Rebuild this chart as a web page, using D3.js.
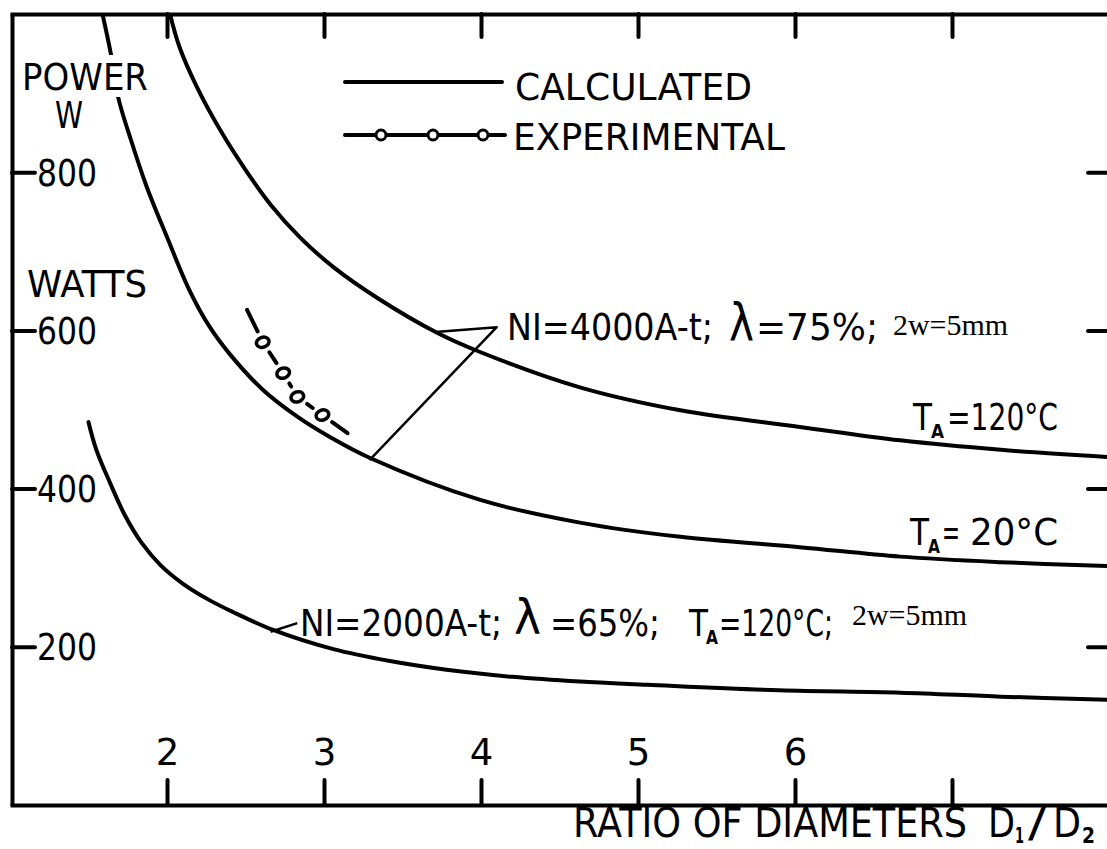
<!DOCTYPE html>
<html>
<head>
<meta charset="utf-8">
<script src="https://cdn.jsdelivr.net/npm/d3@7"></script>
<style>
  html, body { margin: 0; padding: 0; background: #fff; }
  svg { display: block; }
</style>
</head>
<body>
<svg id="chart" width="1107" height="849"></svg>
<script>
// power vs ratio of diameters D1/D2
const xTicks = [2, 3, 4, 5, 6, 7];
const xTickLabels = ["2", "3", "4", "5", "6", ""];
const yTicks = [200, 400, 600, 800];

// NI=4000A-t, lambda=75%, T_A=120°C (calculated)
const curveTa120 = [[2.02,999],[2.08,958],[2.19,908],[2.34,853],[2.50,803],[2.66,759],[2.85,717],[3.06,680],
  [3.34,641],[3.72,597],[3.99,573],[4.63,528],[5.27,499],[6.03,478],[6.67,461],[7.31,449],[7.99,440]];
// NI=4000A-t, lambda=75%, T_A=20°C (calculated)
const curveTa20 = [[1.59,999],[1.64,952],[1.69,894],[1.77,841],[1.87,782],[2.00,718],[2.14,652],[2.27,605],
  [2.40,570],[2.61,525],[2.83,491],[3.04,465],[3.29,439],[3.99,386],[4.63,357],[5.27,339],[6.03,326],
  [6.67,314],[7.31,307],[7.99,302]];
// NI=2000A-t, lambda=65%, T_A=120°C (calculated)
const curveNi2000 = [[1.50,484],[1.55,449],[1.64,406],[1.73,367],[1.84,331],[1.96,303],[2.10,280],[2.27,259],
  [2.42,244],[2.68,221],[3.06,197],[3.42,182],[3.78,171],[4.20,162],[4.63,156],[5.06,152],[5.90,145],
  [6.67,142],[7.31,137],[7.99,133]];
// experimental points and the ends of the line drawn through them
const experimental = [[2.61,585],[2.74,546],[2.83,516],[2.99,493]];
const experimentalEnds = [[2.51,626],[3.15,470]];

// leader lines of the two notes
const leader4000 = [[3.71,598],[4.10,604],[3.29,436]];
const leader2000 = [[2.66,219],[2.83,230]];

const FONT = '"DejaVu Sans", sans-serif';
const SERIF = '"Liberation Serif", "DejaVu Serif", serif';

const svg = d3.select("#chart");
svg.append("rect").attr("width", 1107).attr("height", 849).attr("fill", "#fff");

const x = d3.scaleLinear().domain([1, 8]).range([10, 1109]);
const y = d3.scaleLinear().domain([0, 1000]).range([805, 14]);

function styleAxis(g) {
  g.attr("font-family", FONT).attr("font-size", 37);
  g.select(".domain").attr("stroke", "#000").attr("stroke-width", 4);
  g.selectAll(".tick line").attr("stroke", "#000").attr("stroke-width", 4).attr("stroke-linecap", "round");
  g.selectAll(".tick text").attr("fill", "#000");
}

// frame = four axes, ticks pointing inwards
svg.append("g")
  .attr("transform", "translate(0,805)")
  .call(d3.axisBottom(x).tickValues(xTicks).tickFormat((d, i) => xTickLabels[i])
    .tickSize(-25).tickSizeOuter(0).tickPadding(-66))
  .call(styleAxis);

svg.append("g")
  .attr("transform", "translate(0,14)")
  .call(d3.axisTop(x).tickValues(xTicks).tickFormat("").tickSize(-23).tickSizeOuter(0))
  .call(styleAxis);

const yAxisG = svg.append("g")
  .attr("transform", "translate(12,0)")
  .call(d3.axisLeft(y).tickValues(yTicks).tickSize(-23).tickSizeOuter(0).tickPadding(-25))
  .call(styleAxis);
yAxisG.attr("text-anchor", "start");
yAxisG.selectAll(".tick text")
  .attr("dy", "0.35em")
  .attr("textLength", 60)
  .attr("lengthAdjust", "spacingAndGlyphs");

svg.append("g")
  .attr("transform", "translate(1109,0)")
  .call(d3.axisRight(y).tickValues(yTicks).tickFormat("").tickSize(-21).tickSizeOuter(0))
  .call(styleAxis);

// curves
svg.append("clipPath").attr("id", "plot-clip")
  .append("rect").attr("x", 12).attr("y", 14).attr("width", 1097).attr("height", 791);

const line = d3.line()
  .x(d => x(d[0]))
  .y(d => y(d[1]))
  .curve(d3.curveCatmullRom.alpha(0.5));

const curves = svg.append("g").attr("clip-path", "url(#plot-clip)");
[curveTa120, curveTa20, curveNi2000].forEach(c => {
  curves.append("path")
    .attr("d", line(c))
    .attr("fill", "none")
    .attr("stroke", "#000")
    .attr("stroke-width", 4)
    .attr("stroke-linecap", "round");
});

// experimental: short dashes between little rings
const expAll = [experimentalEnds[0], ...experimental, experimentalEnds[1]].map(d => [x(d[0]), y(d[1])]);
const trim = 12;
for (let i = 0; i < expAll.length - 1; i++) {
  const [x0, y0] = expAll[i];
  const [x1, y1] = expAll[i + 1];
  const len = Math.hypot(x1 - x0, y1 - y0);
  const ux = (x1 - x0) / len, uy = (y1 - y0) / len;
  const t0 = i === 0 ? 0 : trim;
  const t1 = i === expAll.length - 2 ? 0 : trim;
  svg.append("line")
    .attr("x1", x0 + ux * t0).attr("y1", y0 + uy * t0)
    .attr("x2", x1 - ux * t1).attr("y2", y1 - uy * t1)
    .attr("stroke", "#000").attr("stroke-width", 4).attr("stroke-linecap", "round");
}
svg.selectAll("ellipse.exp")
  .data(experimental)
  .join("ellipse")
  .attr("class", "exp")
  .attr("cx", d => x(d[0]))
  .attr("cy", d => y(d[1]))
  .attr("rx", 6.5)
  .attr("ry", 5)
  .attr("transform", d => `rotate(-20 ${x(d[0])} ${y(d[1])})`)
  .attr("fill", "#fff")
  .attr("stroke", "#000")
  .attr("stroke-width", 3.5);

// leaders
const leaderLine = d3.line().x(d => x(d[0])).y(d => y(d[1]));
[leader4000, leader2000].forEach(l => {
  svg.append("path").attr("d", leaderLine(l))
    .attr("fill", "none").attr("stroke", "#000").attr("stroke-width", 2.5)
    .attr("stroke-linejoin", "round");
});

// legend
svg.append("line").attr("x1", 345).attr("x2", 502).attr("y1", 82).attr("y2", 82)
  .attr("stroke", "#000").attr("stroke-width", 4).attr("stroke-linecap", "round");
svg.append("line").attr("x1", 345).attr("x2", 505).attr("y1", 135).attr("y2", 135)
  .attr("stroke", "#000").attr("stroke-width", 4).attr("stroke-linecap", "round");
[381, 433, 483].forEach(cx => {
  svg.append("circle").attr("cx", cx).attr("cy", 135).attr("r", 5)
    .attr("fill", "#fff").attr("stroke", "#000").attr("stroke-width", 3);
});

// the POWER label interrupts the T_A=20°C curve
svg.append("rect").attr("x", 18).attr("y", 55).attr("width", 134).attr("height", 42).attr("fill", "#fff");

function put(s, px, py, size, w, opts = {}) {
  const t = svg.append("text")
    .attr("x", px).attr("y", py)
    .attr("font-family", opts.serif ? SERIF : FONT)
    .attr("font-size", size)
    .attr("font-weight", opts.bold ? "bold" : null)
    .attr("fill", "#000")
    .text(s);
  if (w) t.attr("textLength", w).attr("lengthAdjust", "spacingAndGlyphs");
  return t;
}

put("POWER", 22, 90, 37, 126);
put("W", 55, 128, 37, 28);
put("WATTS", 27, 297, 37, 120);

put("CALCULATED", 515, 100, 37, 237);
put("EXPERIMENTAL", 513, 150, 37, 272);

// note on the 4000 A-t curves
put("NI=4000A-t;", 507, 340, 37, 206);
put("λ", 729, 340, 52, 25);
put("=75%;", 756, 340, 37, 122);
put("2w=5mm", 893, 335, 29, 115, { serif: true });

// note on the 2000 A-t curve
put("NI=2000A-t;", 300, 636, 37, 202);
put("λ", 514, 634, 48, 27);
put("=65%;", 550, 636, 37, 110);
put("T", 689, 636, 37, 19);
put("A", 706, 644, 20, 12, { bold: true });
put("=120°C;", 719, 636, 37, 114);
put("2w=5mm", 852, 625, 29, 115, { serif: true });

// curve names
put("T", 913, 430, 37, 19);
put("A", 931, 438, 20, 13, { bold: true });
put("=120°C", 947, 430, 37, 111);

put("T", 910, 545, 37, 19);
put("A", 928, 553, 20, 12, { bold: true });
put("=", 942, 545, 37, 18);
put("20°C", 970, 545, 37, 88);

// x axis title
put("RATIO OF DIAMETERS", 573, 837, 41, 394);
put("D", 988, 837, 41, 27);
put("1", 1015, 843, 22, 9, { bold: true });
put("/", 1028, 837, 41, 18);
put("D", 1053, 837, 41, 28);
put("2", 1082, 843, 22, 13, { bold: true });
</script>
</body>
</html>
